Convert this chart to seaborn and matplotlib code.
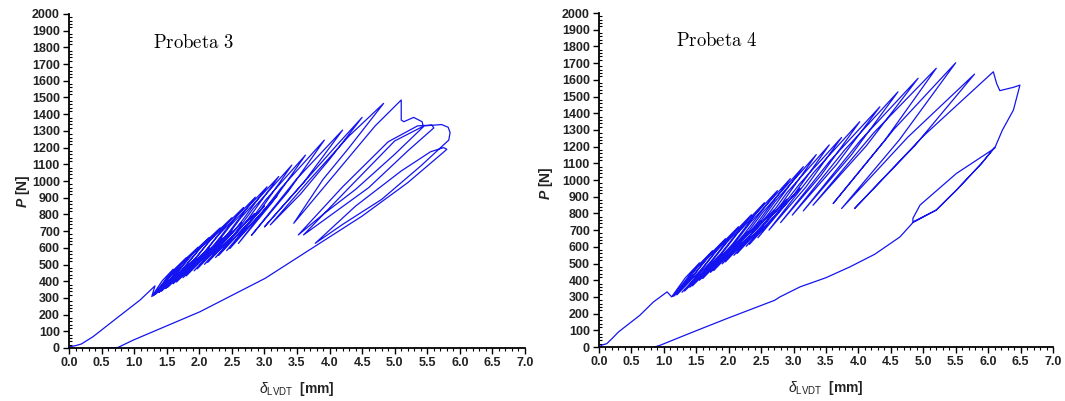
import matplotlib
matplotlib.use("Agg")
import matplotlib.pyplot as plt
from matplotlib.ticker import MultipleLocator, FormatStrFormatter
import seaborn as sns
import pandas as pd

# Probeta 3: load–displacement path (delta in mm, P in N)
delta_p3 = [0.00, 0.02, 0.10, 0.19, 0.37, 0.73, 1.09, 1.32,
            1.27, 1.43, 1.60, 1.45,
            1.29, 1.54, 1.80, 1.56,
            1.30, 1.63, 1.98, 1.66,
            1.33, 1.73, 2.15, 1.77,
            1.38, 1.95, 1.42, 1.84, 2.32, 1.91,
            1.48, 2.15, 1.52, 1.98, 2.50, 2.06,
            1.60, 2.35, 1.65, 2.13, 2.68, 2.22,
            1.75, 2.50, 1.80, 2.30, 2.86, 2.40,
            1.92, 2.65, 1.97, 2.47, 3.04, 2.57,
            2.08, 2.85, 2.13, 2.64, 3.22, 2.74,
            2.25, 3.00, 2.30, 2.83, 3.42, 2.93,
            2.42, 3.20, 2.47, 3.02, 3.63, 3.12,
            2.60, 3.25, 3.92, 3.37,
            2.80, 3.49, 4.20, 3.61,
            3.00, 3.60, 4.10, 4.50, 4.00, 3.55,
            3.09, 3.70, 4.30, 4.83, 4.30, 3.90,
            3.45, 4.10, 4.70, 5.10, 5.10, 5.14, 5.29, 5.42, 5.44, 5.00, 4.40, 3.90,
            3.52, 4.20, 4.90, 5.35, 5.57, 5.60, 5.20, 4.60, 4.00,
            3.60, 4.30, 5.00, 5.45, 5.72, 5.82, 5.85, 5.83, 5.40, 4.80, 4.20,
            3.78, 4.40, 5.10, 5.55, 5.75, 5.80, 5.76, 5.20, 4.50,
            3.78, 3.01, 2.01, 0.99, 0.75, 0.50]
load_p3 = [0, 8, 14, 24, 68, 178, 287, 372,
           308, 402, 472, 380,
           312, 440, 541, 414,
           315, 473, 603, 448,
           322, 508, 661, 480,
           333, 540, 340, 543, 719, 520,
           356, 600, 365, 585, 780, 565,
           385, 660, 395, 630, 842, 614,
           421, 705, 432, 679, 903, 665,
           462, 750, 474, 730, 965, 716,
           501, 805, 513, 781, 1027, 767,
           542, 850, 555, 836, 1095, 821,
           583, 915, 596, 887, 1155, 872,
           626, 955, 1245, 940,
           674, 1010, 1305, 995,
           725, 990, 1210, 1381, 1130, 920,
           737, 1010, 1270, 1465, 1200, 1010,
           747, 1050, 1330, 1485, 1365, 1355, 1381, 1355, 1325, 1160, 950, 800,
           677, 965, 1235, 1330, 1335, 1318, 1180, 960, 790,
           677, 960, 1240, 1330, 1338, 1322, 1290, 1245, 1090, 890, 740,
           627, 850, 1060, 1175, 1200, 1190, 1176, 990, 790,
           610, 417, 217, 48, 3, 0]

# Probeta 4: load–displacement path (delta in mm, P in N)
delta_p4 = [0.00, 0.05, 0.12, 0.20, 0.30, 0.63, 0.84, 1.05,
            1.12, 1.33, 1.55, 1.35,
            1.14, 1.44, 1.75, 1.46,
            1.16, 1.55, 1.95, 1.58,
            1.20, 1.67, 2.15, 1.72,
            1.28, 1.90, 1.32, 1.81, 2.35, 1.88,
            1.40, 2.10, 1.44, 1.97, 2.55, 2.06,
            1.55, 2.30, 1.60, 2.14, 2.75, 2.24,
            1.72, 2.50, 1.77, 2.33, 2.95, 2.43,
            1.90, 2.70, 1.95, 2.52, 3.15, 2.62,
            2.08, 2.90, 2.13, 2.71, 3.35, 2.82,
            2.27, 3.10, 2.32, 2.90, 3.55, 3.01,
            2.45, 3.09, 3.74, 3.19,
            2.62, 3.31, 4.02, 3.42,
            2.80, 3.56, 4.33, 3.66,
            2.98, 3.79, 4.61, 3.89,
            3.15, 4.03, 4.92, 4.12,
            3.30, 4.24, 5.20, 4.41,
            3.61, 4.55, 5.50, 4.63,
            3.74, 4.76, 5.79, 4.87,
            3.94, 5.00, 6.08, 6.13, 6.18, 6.39, 6.49, 6.39, 6.22,
            6.10, 5.51, 4.95, 4.84,
            4.84, 5.20, 5.51, 5.90, 6.10, 5.90, 5.51, 5.20, 4.84,
            4.64, 4.25, 3.87, 3.50, 3.10, 2.79, 2.71, 1.97, 1.45, 0.94, 0.86]
load_p4 = [0, 12, 20, 50, 90, 190, 270, 330,
           300, 414, 504, 391,
           303, 452, 576, 429,
           306, 491, 648, 466,
           312, 530, 720, 510,
           328, 560, 335, 575, 792, 560,
           358, 620, 366, 626, 864, 617,
           400, 690, 410, 683, 936, 677,
           447, 755, 458, 743, 1008, 738,
           498, 820, 510, 804, 1080, 800,
           549, 885, 560, 869, 1152, 860,
           603, 950, 615, 925, 1210, 914,
           654, 975, 1255, 958,
           700, 1045, 1349, 1027,
           745, 1114, 1438, 1092,
           790, 1181, 1528, 1150,
           815, 1237, 1609, 1204,
           849, 1284, 1669, 1239,
           859, 1305, 1702, 1240,
           829, 1256, 1634, 1206,
           829, 1263, 1648, 1579, 1535, 1555, 1568, 1419, 1299,
           1190, 1039, 850, 770,
           749, 820, 939, 1100, 1195, 1100, 939, 820, 745,
           659, 555, 480, 415, 360, 300, 280, 170, 90, 10, 0]

titles = ["Probeta 3", "Probeta 4"]
x_ticks = [0.0, 0.5, 1.0, 1.5, 2.0, 2.5, 3.0, 3.5, 4.0, 4.5, 5.0, 5.5, 6.0, 6.5, 7.0]
y_ticks = list(range(0, 2001, 100))

sns.set_theme(style="white")
plt.rcParams["font.family"] = ["Liberation Sans", "DejaVu Sans"]
plt.rcParams["mathtext.fontset"] = "custom"
plt.rcParams["mathtext.rm"] = "Liberation Sans"
plt.rcParams["mathtext.it"] = "Liberation Sans:italic"
plt.rcParams["mathtext.bf"] = "Liberation Sans:bold:italic"

fig = plt.figure(figsize=(10.65, 4.01), dpi=100)
ax_left = fig.add_axes([69 / 1065, 53 / 401, 456 / 1065, 334 / 401])
ax_right = fig.add_axes([599 / 1065, 54 / 401, 454 / 1065, 334 / 401])

panels = [
    (ax_left, delta_p3, load_p3, titles[0], (0.185, 0.912), (-0.082, 0.47)),
    (ax_right, delta_p4, load_p4, titles[1], (0.17, 0.915), (-0.097, 0.49)),
]

for ax, dx, py, title, tpos, ylpos in panels:
    df = pd.DataFrame({"delta": dx, "P": py})
    sns.lineplot(data=df, x="delta", y="P", sort=False, estimator=None,
                 color="#1414f0", linewidth=0.9, ax=ax)
    ax.set_xlim(0, 7)
    ax.set_ylim(0, 2000)
    ax.set_xticks(x_ticks)
    ax.set_yticks(y_ticks)
    ax.xaxis.set_major_formatter(FormatStrFormatter("%.1f"))
    ax.xaxis.set_minor_locator(MultipleLocator(0.1))
    ax.yaxis.set_minor_locator(MultipleLocator(20))
    for side in ("top", "right"):
        ax.spines[side].set_visible(False)
    for side in ("left", "bottom"):
        ax.spines[side].set_color("black")
        ax.spines[side].set_linewidth(1.3)
    ax.tick_params(axis="both", which="major", direction="out", length=4,
                   width=1.0, color="black", labelsize=9, pad=2.5,
                   left=True, bottom=True)
    ax.tick_params(axis="x", which="minor", direction="out", length=2.5,
                   width=0.8, color="black", bottom=True)
    ax.tick_params(axis="y", which="minor", direction="in", length=2.5,
                   width=0.8, color="black", left=True)
    for lab in ax.get_xticklabels() + ax.get_yticklabels():
        lab.set_fontweight("bold")
        lab.set_color("#222222")
    ax.set_xlabel(r"$\delta_{\mathrm{LVDT}}$  [mm]", fontsize=10,
                  fontweight="bold", color="#222222", labelpad=8)
    ax.set_ylabel(r"$\mathbf{P}$ [N]", fontsize=10, fontweight="bold",
                  color="#222222")
    ax.yaxis.set_label_coords(*ylpos)
    ax.text(tpos[0], tpos[1], r"$\mathrm{" + title.replace(" ", r"\ ") + "}$",
            transform=ax.transAxes, fontsize=13.5, math_fontfamily="cm",
            ha="left", va="center", color="black")
    ax.grid(False)
    ax.set_facecolor("white")

fig.savefig("out.png", dpi=100, facecolor="white")
